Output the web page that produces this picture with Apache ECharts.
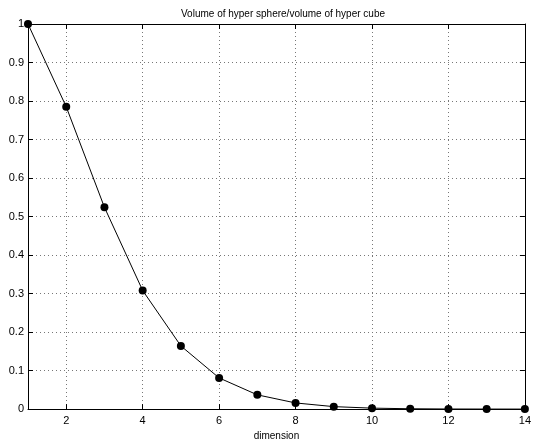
<!DOCTYPE html>
<html>
<head>
<meta charset="utf-8">
<script src="https://cdn.jsdelivr.net/npm/echarts@6/dist/echarts.min.js"></script>
<style>
  html, body { margin: 0; padding: 0; background: #fff; }
  #main { width: 534px; height: 446px; }
</style>
</head>
<body>
<div id="main"></div>
<script>
// dimension n and ratio volume(unit ball) / volume(cube of side 2)
const dims = [1, 2, 3, 4, 5, 6, 7, 8, 9, 10, 11, 12, 13, 14]
const ratio = [1, 0.785, 0.524, 0.308, 0.164, 0.081, 0.037, 0.016, 0.0064, 0.0025, 0.0009, 0.0003, 0.0001, 0.00004]
const xTicks = [2, 4, 6, 8, 10, 12, 14]

const font = 'Liberation Sans, Arial, sans-serif'
const myChart = echarts.init(document.getElementById('main'))

const gridLine = { show: true, lineStyle: { color: '#777', type: [1, 3], width: 1 } }
const axisLine = { show: true, onZero: false, lineStyle: { color: '#000', width: 1 } }
const tick = { show: true, inside: true, length: 5, lineStyle: { color: '#000' }, customValues: xTicks }
const ytick = { show: true, inside: true, length: 5, lineStyle: { color: '#000' } }

const option = {
  animation: false,
  title: {
    text: 'Volume of hyper sphere/volume of hyper cube',
    left: 278,
    top: 4,
    textAlign: 'center',
    textStyle: { fontFamily: font, fontSize: 10, fontWeight: 'normal', color: '#000' }
  },
  grid: { left: 28, right: 6, top: 24, bottom: 28 },
  xAxis: [
    {
      type: 'value', min: 1, max: 14,
      position: 'bottom',
      name: 'dimension', nameLocation: 'middle', nameGap: 14,
      nameTextStyle: { fontFamily: font, fontSize: 10, color: '#000' },
      axisLine, axisTick: tick,
      axisLabel: {
        fontFamily: font, fontSize: 11, color: '#000', margin: 6,
        customValues: xTicks
      },
      splitLine: gridLine
    },
    {
      type: 'value', min: 1, max: 14,
      position: 'top',
      axisLine, axisTick: tick, axisLabel: { show: false },
      splitLine: { show: false }
    }
  ],
  yAxis: [
    {
      type: 'value', min: 0, max: 1, interval: 0.1,
      position: 'left',
      axisLine, axisTick: ytick,
      axisLabel: {
        fontFamily: font, fontSize: 11, color: '#000', margin: 4,
        formatter: v => String(Math.round(v * 10) / 10)
      },
      splitLine: gridLine
    },
    {
      type: 'value', min: 0, max: 1, interval: 0.1,
      position: 'right',
      axisLine, axisTick: ytick, axisLabel: { show: false },
      splitLine: { show: false }
    }
  ],
  series: [
    {
      type: 'line',
      xAxisIndex: 0,
      yAxisIndex: 0,
      data: dims.map((d, i) => [d, ratio[i]]),
      symbol: 'circle',
      symbolSize: 8,
      showAllSymbol: true,
      clip: false,
      itemStyle: { color: '#000' },
      lineStyle: { color: '#000', width: 1 }
    }
  ]
}

myChart.setOption(option)
</script>
</body>
</html>
